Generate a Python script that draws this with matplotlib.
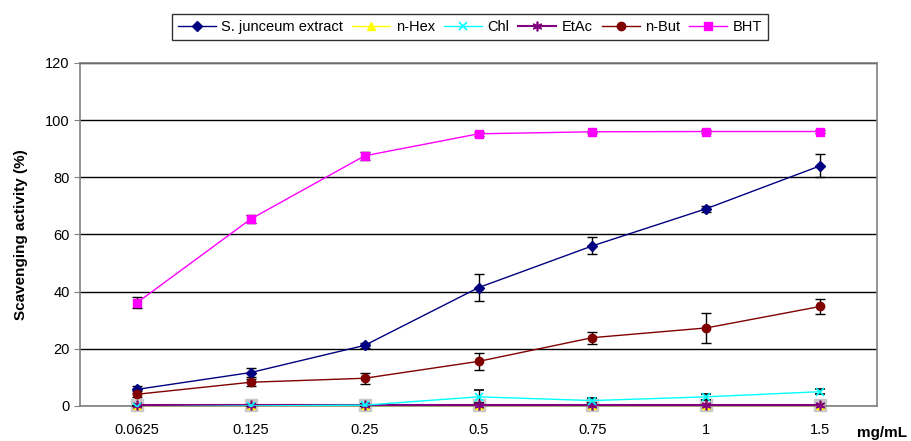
import matplotlib.pyplot as plt
from matplotlib.lines import Line2D
import numpy as np

plt.rcParams['font.family'] = ['Liberation Sans', 'DejaVu Sans']

conc = ["0.0625", "0.125", "0.25", "0.5", "0.75", "1", "1.5"]

sj = [5.8, 11.7, 21.2, 41.4, 56.0, 69.0, 84.0]
sj_err = [1.2, 1.6, 0.8, 4.8, 3.0, 1.0, 4.0]
nhex = [0.3, 0.3, 0.3, 0.3, 0.3, 0.3, 0.3]
chl = [-0.3, 0.0, 0.3, 3.2, 1.9, 3.2, 5.0]
chl_err = [0.3, 0.3, 0.3, 2.3, 1.0, 1.0, 0.8]
etac = [0.3, 0.3, 0.3, 0.3, 0.3, 0.3, 0.3]
nbut = [4.1, 8.3, 9.7, 15.6, 23.9, 27.3, 34.8]
nbut_err = [1.0, 1.2, 1.9, 3.0, 2.1, 5.2, 2.7]
bht = [36.1, 65.4, 87.5, 95.2, 95.9, 96.0, 96.0]
bht_err = [1.9, 1.3, 1.5, 0.7, 0.4, 0.4, 0.4]

x = np.arange(len(conc))

fig = plt.figure(figsize=(9.11, 4.41), dpi=100)
ax = fig.add_axes([0.0878, 0.0794, 0.875, 0.778])

ebk = dict(ecolor="black", elinewidth=1, capsize=3.5, capthick=1)
styles = [
    ("S. junceum extract", sj, sj_err, dict(color="#000080", marker="D", ms=5, lw=1), 4),
    ("n-Hex", nhex, None, dict(color="#FFFF00", marker="^", ms=6, lw=1), 3),
    ("Chl", chl, chl_err, dict(color="#00FFFF", marker="x", ms=6, mew=1.2, lw=1), 3),
    ("EtAc", etac, None, dict(color="#800080", marker=(6, 2, 0), ms=7, mew=1.2, lw=1.5), 3),
    ("n-But", nbut, nbut_err, dict(color="#800000", marker="o", ms=6, lw=1), 4),
    ("BHT", bht, bht_err, dict(color="#FF00FF", marker="s", ms=6, lw=1), 4),
]

# grey shadow behind the markers sitting on zero
ax.plot(x, nhex, ls="none", marker="s", ms=8, color="#c8c8c8", mec="#c8c8c8",
        zorder=2.5, clip_on=False)

handles = []
for name, y, err, st, z in styles:
    if err is None:
        ax.plot(x, y, zorder=z, clip_on=False, **st)
    else:
        ax.errorbar(x, y, yerr=err, zorder=z, **st, **ebk)
    handles.append(Line2D([], [], label=name, **st))

ax.set_xlim(-0.5, len(conc) - 0.5)
ax.set_ylim(0, 120)
ax.set_yticks(range(0, 121, 20))
ax.set_xticks(x)
ax.set_xticklabels(conc)
ax.tick_params(axis="x", length=0, pad=12, labelsize=10.5)
ax.tick_params(axis="y", length=4, direction="out", labelsize=10.5, color="#808080")
ax.yaxis.grid(True, color="black", lw=1)
ax.set_axisbelow(True)
for s in ax.spines.values():
    s.set_color("#808080")
    s.set_linewidth(1.2)

ax.set_ylabel("Scavenging activity (%)", fontsize=11, fontweight="bold", labelpad=12)
fig.text(0.941, 0.008, "mg/mL", fontsize=11, fontweight="bold", ha="left", va="baseline")

leg = fig.legend(handles=handles, loc="upper center", bbox_to_anchor=(0.516, 0.985),
                 ncol=6, fontsize=10.5, frameon=True, fancybox=False, edgecolor="black",
                 handlelength=2.6, columnspacing=0.6, handletextpad=0.4,
                 borderpad=0.4)
leg.get_frame().set_linewidth(1)

fig.savefig("out.png", dpi=100)
